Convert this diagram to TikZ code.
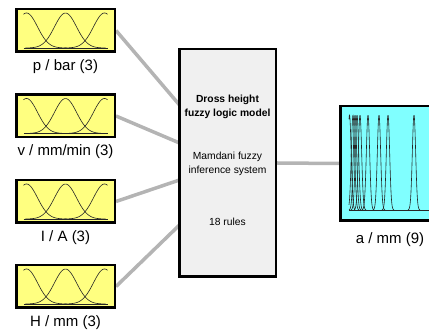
\documentclass[tikz,border=0pt]{standalone}
\usepackage{fontspec}
\setmainfont{Liberation Sans}
\usetikzlibrary{backgrounds}

\definecolor{mfyellow}{RGB}{255,255,128}
\definecolor{mfcyan}{RGB}{128,255,255}
\definecolor{fisgray}{RGB}{240,240,240}
\definecolor{linkgray}{RGB}{180,180,180}

\begin{document}
\begin{tikzpicture}[x=1pt,y=-1pt,line width=0.6pt,
    inbox/.style={draw=black,line width=2.5pt,fill=mfyellow,minimum width=98.5pt,minimum height=42.5pt,inner sep=0pt},
    outbox/.style={draw=black,line width=2.5pt,fill=mfcyan,minimum width=99.5pt,minimum height=114.5pt,inner sep=0pt},
    fisbox/.style={draw=black,line width=2.5pt,fill=fisgray,minimum width=96.5pt,minimum height=227.5pt,inner sep=0pt,
      align=center,font=\fontsize{10.3}{14}\selectfont},
    lbl/.style={font=\fontsize{15}{17}\selectfont,inner sep=0pt},
    mfline/.style={line width=0.6pt,black!85},
    link/.style={draw=linkgray,line width=3.5pt}]
  \useasboundingbox (0,0) rectangle (429,336);
  \clip (0,0) rectangle (429,336);

  % input and output boxes
  \node[inbox] (p) at (65.5,30.5) {};
  \node[inbox] (v) at (65.5,116) {};
  \node[inbox] (I) at (65.5,201.5) {};
  \node[inbox] (H) at (65.5,286.5) {};
  \node[outbox] (a) at (390,163.5) {};

  % fuzzy inference system
  \node[fisbox] (fis) at (227.5,163) {};
  \node[fisbox,draw=none,fill=none,minimum height=0pt] (t1) at (227.5,107) {\bfseries Dross height\\ \bfseries fuzzy logic model};
  \node[fisbox,draw=none,fill=none,minimum height=0pt] (t2) at (227.5,164) {Mamdani fuzzy\\inference system};
  \node[fisbox,draw=none,fill=none,minimum height=0pt] (t3) at (227.5,222) {18 rules};

  \coordinate (m1) at (179.5,105);
  \coordinate (m2) at (179.5,143);
  \coordinate (m3) at (179.5,180);
  \coordinate (m4) at (179.5,225);

  % connectors
  \begin{pgfonlayer}{background}
    \draw[link] (p.east) -- (m1);
    \draw[link] (v.east) -- (m2);
    \draw[link] (I.east) -- (m3);
    \draw[link] (H.east) -- (m4);
    \draw[link] (fis.east) -- (a.west);
  \end{pgfonlayer}

  % membership functions, three per input
  \foreach \n in {p,v,I,H}{
    \begin{scope}[shift={(\n.center)}]
      \draw[mfline] (-42,17.5) -- (42,17.5);
      \foreach \c/\lo/\hi in {-39/-42/1,0/-40/40,39/-1/42}
        \draw[mfline] plot[domain=\lo:\hi,samples=50,smooth] (\x,{17.5-35*exp(-((\x-\c)^2)/242)});
    \end{scope}
  }

  % nine output functions
  \begin{scope}[shift={(a.center)}]
    \draw[mfline] (-41,46.5) -- (45,46.5);
    \foreach \c/\lo/\hi in {-40.5/-41/-35,-37/-41/-31,-35/-41/-29,-33/-39/-27,-30/-36/-24,
                            -22/-28/-16,-11/-17/-5,-2/-8/4,24/18/30}
      \draw[mfline] plot[domain=\lo:\hi,samples=40,smooth] (\x,{46.5-95*exp(-((\x-\c)^2)/5.5)});
  \end{scope}

  % labels
  \node[lbl,below=6pt] (pl) at (p.south) {p / bar (3)};
  \node[lbl,below=6pt] (vl) at (v.south) {v / mm/min (3)};
  \node[lbl,below=6pt] (Il) at (I.south) {I / A (3)};
  \node[lbl,below=6pt] (Hl) at (H.south) {H / mm (3)};
  \node[lbl,below=10pt] (al) at (a.south) {a / mm (9)};
\end{tikzpicture}
\end{document}
